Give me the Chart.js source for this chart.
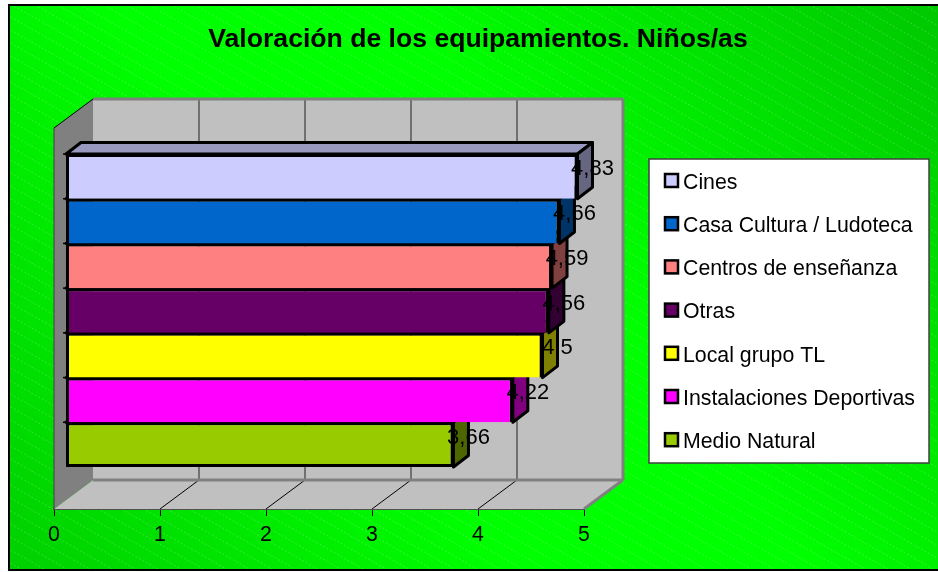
<!DOCTYPE html>
<html>
<head>
<meta charset="utf-8">
<title>Valoración de los equipamientos</title>
<script src="https://cdn.jsdelivr.net/npm/chart.js@4"></script>
<style>
    html, body { margin: 0; padding: 0; background: #fff; }
    canvas { display: block; }
</style>
</head>
<body>
<canvas id="grafico" width="938" height="572"></canvas>
<script>
const categorias = ['Equipamientos'];
const equipamientos = ['Cines', 'Casa Cultura / Ludoteca', 'Centros de enseñanza', 'Otras', 'Local grupo TL', 'Instalaciones Deportivas', 'Medio Natural'];
const valoraciones = [4.83, 4.66, 4.59, 4.56, 4.5, 4.22, 3.66];
const colores = ['#ccccff', '#0066cc', '#ff8080', '#660066', '#ffff00', '#ff00ff', '#99cc00'];
const ticksEje = [0, 1, 2, 3, 4, 5];

const fuente = '"Liberation Sans", Arial, sans-serif';
const fondoEjes = { x: 39, y: -29 };   // desplazamiento de la pared del fondo
const planoBarras = { x: 11.5, y: -8 };  // plano frontal de las barras
const ladoBarra = { x: 15, y: -11.5 }; // profundidad de cada barra

// oscurece un color hex para las caras laterales
const oscurecer = (hex, factor) => {
    const n = parseInt(hex.slice(1), 16);
    const r = Math.round((n >> 16 & 255) * factor);
    const g = Math.round((n >> 8 & 255) * factor);
    const b = Math.round((n & 255) * factor);
    return 'rgb(' + r + ',' + g + ',' + b + ')';
};

const poligono = (ctx, puntos, relleno, borde, grosor) => {
    ctx.beginPath();
    puntos.forEach((p, i) => (i ? ctx.lineTo(p[0], p[1]) : ctx.moveTo(p[0], p[1])));
    ctx.closePath();
    if (relleno) {
        ctx.fillStyle = relleno;
        ctx.fill();
    }
    if (borde) {
        ctx.strokeStyle = borde;
        ctx.lineWidth = grosor;
        ctx.stroke();
    }
};

const linea = (ctx, x1, y1, x2, y2, color, grosor) => {
    ctx.beginPath();
    ctx.moveTo(x1, y1);
    ctx.lineTo(x2, y2);
    ctx.strokeStyle = color;
    ctx.lineWidth = grosor;
    ctx.stroke();
};

/* Fondo verde con rayas */
const fondoPlugin = {
    id: 'fondo',
    beforeDraw(chart) {
        const ctx = chart.ctx;
        ctx.save();
        ctx.fillStyle = '#fff';
        ctx.fillRect(0, 0, 938, 572);

        const gradiente = ctx.createLinearGradient(32, 601, 916, -25);
        gradiente.addColorStop(0, '#00d000');
        gradiente.addColorStop(0.38, '#00ff00');
        gradiente.addColorStop(0.6, '#00ff00');
        gradiente.addColorStop(1, '#00c800');
        ctx.fillStyle = gradiente;
        ctx.fillRect(10, 6, 928, 564);

        ctx.beginPath();
        ctx.rect(10, 6, 928, 564);
        ctx.clip();
        ctx.strokeStyle = 'rgba(255,255,255,0.2)';
        ctx.lineWidth = 1;
        ctx.setLineDash([2, 2]);
        for (let y = -600; y < 572; y += 13) {
            ctx.beginPath();
            ctx.moveTo(0, y);
            ctx.lineTo(938, y + 938 * 0.57);
            ctx.stroke();
        }
        ctx.setLineDash([]);
        ctx.restore();

        ctx.save();
        linea(ctx, 9, 5, 938, 5, '#000', 2);
        linea(ctx, 9, 4, 9, 571, '#000', 2);
        linea(ctx, 9, 570, 938, 570, '#000', 2);
        ctx.restore();
    },
    // paredes y suelo del grafico 3D, a partir de la escala
    beforeDatasetsDraw(chart) {
        const ctx = chart.ctx;
        const area = chart.chartArea;
        const ejeX = chart.scales.x;
        const dx = fondoEjes.x;
        const dy = fondoEjes.y;
        ctx.save();
        poligono(ctx, [[area.left + dx, area.top + dy], [area.right + dx, area.top + dy], [area.right + dx, area.bottom + dy], [area.left + dx, area.bottom + dy]], '#c0c0c0');
        poligono(ctx, [[area.left, area.bottom], [area.right, area.bottom], [area.right + dx, area.bottom + dy], [area.left + dx, area.bottom + dy]], '#c0c0c0');
        poligono(ctx, [[area.left, area.top], [area.left + dx, area.top + dy], [area.left + dx, area.bottom + dy], [area.left, area.bottom]], '#808080');
        ejeX.ticks.forEach((t) => {
            const x = ejeX.getPixelForValue(t.value);
            if (t.value > 0 && t.value < 5) {
                linea(ctx, x + dx, area.top + dy, x + dx, area.bottom + dy, '#707070', 2);
                linea(ctx, x, area.bottom, x + dx, area.bottom + dy, '#000', 1);
            }
        });
        // bordes grises de la caja
        ctx.lineJoin = 'miter';
        linea(ctx, area.left + dx, area.top + dy, area.right + dx, area.top + dy, '#808080', 3);
        linea(ctx, area.right + dx, area.top + dy, area.right + dx, area.bottom + dy, '#808080', 3);
        linea(ctx, area.left + dx, area.bottom + dy, area.right + dx, area.bottom + dy, '#808080', 3);
        linea(ctx, area.right, area.bottom, area.right + dx, area.bottom + dy, '#808080', 3);
        linea(ctx, area.left, area.top, area.left + dx, area.top + dy, '#000', 1);
        linea(ctx, area.left, area.top, area.left, area.bottom, '#404040', 1);
        ctx.restore();
    },
    beforeDatasetDraw(chart, args) {
        const ctx = chart.ctx;
        ctx.save();
        ctx.translate(planoBarras.x, planoBarras.y);
        const color = colores[args.index];
        const dx = ladoBarra.x;
        const dy = ladoBarra.y;
        args.meta.data.forEach((barra) => {
            const arriba = barra.y - barra.height / 2;
            const abajo = barra.y + barra.height / 2;
            ctx.lineJoin = 'round';
            poligono(ctx, [[barra.base, arriba], [barra.x, arriba], [barra.x + dx, arriba + dy], [barra.base + dx, arriba + dy]], oscurecer(color, 0.75), '#000', 3);
            poligono(ctx, [[barra.x, arriba], [barra.x + dx, arriba + dy], [barra.x + dx, abajo + dy], [barra.x, abajo]], oscurecer(color, 0.5), '#000', 3);
            linea(ctx, barra.base - 3, arriba, barra.base, arriba, '#000', 1.5);
        });
    },
    afterDatasetDraw(chart) {
        chart.ctx.restore();
    },
    // etiquetas de valor y leyenda
    afterDatasetsDraw(chart) {
        const ctx = chart.ctx;
        ctx.save();
        ctx.font = '22px ' + fuente;
        ctx.fillStyle = '#000';
        ctx.textAlign = 'center';
        ctx.textBaseline = 'middle';
        chart.data.datasets.forEach((ds, i) => {
            const barra = chart.getDatasetMeta(i).data[0];
            const texto = String(ds.data[0]).replace('.', ',');
            ctx.fillText(texto, barra.x + planoBarras.x + 15, barra.y + planoBarras.y - 7);
        });

        ctx.fillStyle = '#fff';
        ctx.fillRect(649, 159, 280, 304);
        ctx.strokeStyle = '#404040';
        ctx.lineWidth = 1.5;
        ctx.strokeRect(649, 159, 280, 304);

        ctx.font = '21.3px ' + fuente;
        ctx.textAlign = 'left';
        chart.data.datasets.forEach((ds, i) => {
            const y = 182 + i * 43.2;
            ctx.fillStyle = ds.backgroundColor;
            ctx.fillRect(665, y - 8, 13, 13);
            ctx.strokeStyle = '#000';
            ctx.lineWidth = 2.5;
            ctx.strokeRect(665, y - 8, 13, 13);
            ctx.fillStyle = '#000';
            ctx.fillText(ds.label, 683, y + 1);
        });
        ctx.restore();
    },
    afterLayout(chart) {
        // titulo centrado sobre el area verde
        chart.titleBlock.left = 10;
        chart.titleBlock.right = 946;
    }
};

new Chart(document.getElementById('grafico'), {
    type: 'bar',
    data: {
        labels: categorias,
        datasets: equipamientos.map((nombre, i) => ({
            label: nombre,
            data: [valoraciones[i]],
            backgroundColor: colores[i],
            borderColor: '#000',
            borderWidth: { left: 3, right: 3, top: 3, bottom: i === equipamientos.length - 1 ? 3 : 0 },
            borderSkipped: false,
            categoryPercentage: 0.8215,
            barPercentage: 1,
            clip: false
        }))
    },
    options: {
        indexAxis: 'y',
        responsive: false,
        animation: false,
        layout: {
            padding: { left: 54, right: 354, top: 0, bottom: 23 }
        },
        scales: {
            x: {
                min: 0,
                max: 5,
                afterBuildTicks(scale) {
                    scale.ticks = ticksEje.map((v) => ({ value: v }));
                },
                afterFit(scale) {
                    scale.height = 40;
                },
                grid: { drawOnChartArea: false, color: '#000', tickLength: 7, lineWidth: 1 },
                border: { color: '#505050', width: 2 },
                ticks: {
                    color: '#000',
                    padding: 6,
                    font: { family: fuente, size: 21.3 }
                }
            },
            y: { display: false }
        },
        plugins: {
            legend: { display: false },
            tooltip: { enabled: false },
            title: {
                display: true,
                text: 'Valoración de los equipamientos. Niños/as',
                color: '#000',
                font: { family: fuente, size: 26.6, weight: 'bold' },
                padding: { top: 24, bottom: 72.1 }
            }
        }
    },
    plugins: [fondoPlugin]
});
</script>
</body>
</html>
